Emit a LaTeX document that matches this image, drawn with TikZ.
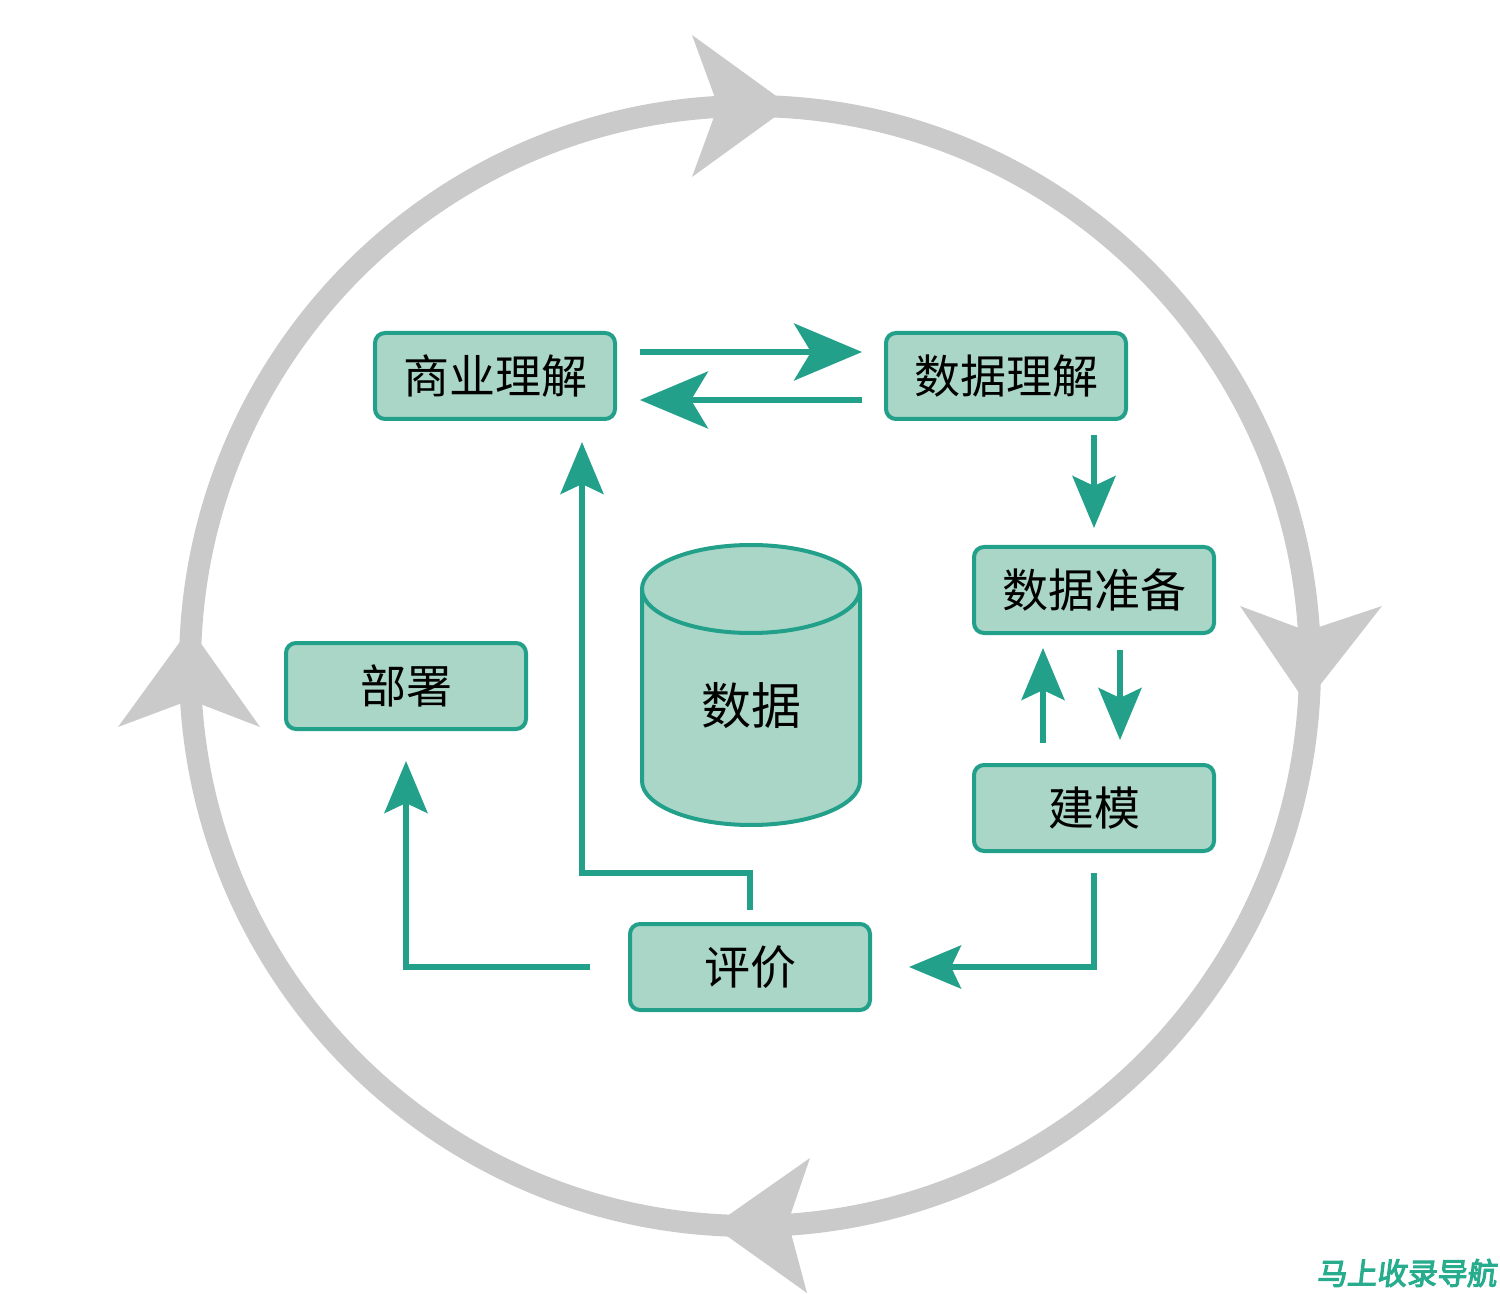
\documentclass[tikz,border=0pt]{standalone}
\usepackage{fontspec}
\setmainfont{Noto Sans CJK SC}
\newfontfamily\wmfont{Noto Sans CJK SC}[FakeBold=3.5,FakeSlant=0.12]
\usetikzlibrary{arrows.meta}
\definecolor{tealline}{RGB}{34,160,138}
\definecolor{tealfill}{RGB}{170,214,200}
\definecolor{ringgray}{RGB}{202,202,202}
\definecolor{wmteal}{RGB}{40,172,142}
\begin{document}
\begin{tikzpicture}[x=0.5pt,y=-0.5pt,
  stepbox/.style={draw=tealline, fill=tealfill, line width=2pt, rounded corners=5pt,
    minimum width=120pt, minimum height=43pt, inner sep=0pt, text=black,
    font=\fontsize{23pt}{23pt}\selectfont},
  flow/.style={draw=tealline, line width=2.8pt},
  bighead/.style={-{Stealth[length=34pt,width=28.5pt,inset=8.5pt]}},
  smallhead/.style={-{Stealth[length=26pt,width=21.5pt,inset=5pt]}},
  ring/.style={draw=ringgray, line width=11pt},
  ringhead/.style={fill=ringgray}]
\useasboundingbox (0,0) rectangle (1500,1294);
\fill[white] (0,0) rectangle (1500,1294);

% outer cycle
\draw[ring] (750,666) circle [radius=280pt];
\fill[ringhead] (790,106) -- (692,35) -- (718,106) -- (692,177) -- cycle;
\fill[ringhead] (1306,703) -- (1240,606) -- (1307,631) -- (1382,606) -- cycle;
\fill[ringhead] (713,1226) -- (810,1158) -- (788,1222) -- (807,1293) -- cycle;
\fill[ringhead] (190,628) -- (118,727) -- (190,700) -- (260,727) -- cycle;

% boxes
\node[stepbox] (bu) at (495,376) {商业理解};
\node[stepbox] (du) at (1006,376) {数据理解};
\node[stepbox] (dp) at (1094,590) {数据准备};
\node[stepbox] (mo) at (1094,808) {建模};
\node[stepbox] (de) at (406,686) {部署};
\node[stepbox] (ev) at (750,967) {评价};

% cylinder
\fill[tealfill] (642,589) -- (642,781) .. controls (642,805.3) and (690.8,825) .. (751,825)
  .. controls (811.2,825) and (860,805.3) .. (860,781) -- (860,589) -- cycle;
\draw[tealline, line width=2pt] (642,589) -- (642,781) .. controls (642,805.3) and (690.8,825) .. (751,825)
  .. controls (811.2,825) and (860,805.3) .. (860,781) -- (860,589);
\draw[tealline, fill=tealfill, line width=2pt] (751,589) ellipse [x radius=54.5pt, y radius=22pt];
\node[text=black, font=\fontsize{25pt}{25pt}\selectfont, inner sep=0pt] (data) at (751,706) {数据};

% connectors
\draw[flow,bighead,shorten <=11.5pt,shorten >=11pt] ([yshift=12pt]bu.east) -- ([yshift=12pt]du.west);
\draw[flow,bighead,shorten <=11pt,shorten >=11.5pt] ([yshift=-12pt]du.west) -- ([yshift=-12pt]bu.east);
\draw[flow,smallhead,shorten <=7pt,shorten >=8.5pt] (du.south -| dp.north) -- (dp.north);
\draw[flow,smallhead,shorten <=10pt,shorten >=6.5pt] ([xshift=-25.5pt]mo.north) -- ([xshift=-25.5pt]dp.south);
\draw[flow,smallhead,shorten <=7.5pt,shorten >=11.5pt] ([xshift=13pt]dp.south) -- ([xshift=13pt]mo.north);
\draw[flow,smallhead,shorten <=10pt,shorten >=18.5pt] (mo.south) |- (ev.east);
\draw[flow,smallhead,shorten <=6pt,shorten >=10.5pt] (ev.north) -- ++(0,-49) -| ([xshift=43.5pt]bu.south);
\draw[flow,smallhead,shorten <=19pt,shorten >=15pt] (ev.west) -| (de.south);

% watermark
\node[anchor=east, text=wmteal, inner sep=0pt, font=\wmfont\fontsize{15pt}{15pt}\selectfont] (wm) at (1497,1273) {马上收录导航};
\end{tikzpicture}
\end{document}
